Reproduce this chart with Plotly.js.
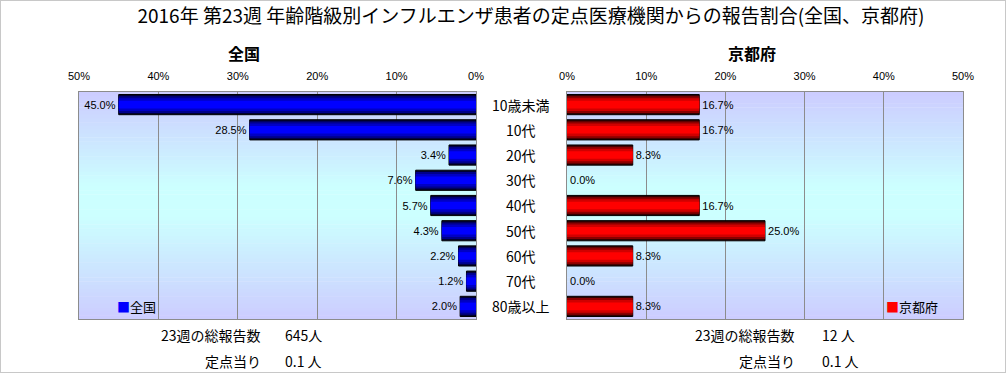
<!DOCTYPE html>
<html><head><meta charset="utf-8">
<script src="https://cdn.plot.ly/plotly-3.0.1.min.js"></script>
<style>
html,body{margin:0;padding:0;background:#fff;}
#wrap{position:relative;width:1006px;height:373px;}
#chart{position:absolute;left:0;top:0;width:1006px;height:373px;}
#frame{position:absolute;left:0;top:0;width:1006px;height:373px;box-sizing:border-box;border:1px solid #c8c8c8;pointer-events:none;}
</style></head>
<body><div id="wrap"><div id="chart"></div><div id="frame"></div></div>
<script>
const categories = ['10歳未満','10代','20代','30代','40代','50代','60代','70代','80歳以上'];
const nationalPct = [45.0, 28.5, 3.4, 7.6, 5.7, 4.3, 2.2, 1.2, 2.0];
const kyotoPct = [16.7, 16.7, 8.3, 0.0, 16.7, 25.0, 8.3, 0.0, 8.3];
const xTickVals = [0, 10, 20, 30, 40, 50];
const xTickText = ['0%', '10%', '20%', '30%', '40%', '50%'];
const titleText = '2016年 第23週 年齢階級別インフルエンザ患者の定点医療機関からの報告割合(全国、京都府)';
const leftName = '全国';
const rightName = '京都府';
const nationalTotal = '645人';
const kyotoTotal = '12 人';
const nationalPerSite = '0.1 人';
const kyotoPerSite = '0.1 人';
const totalLabel = '23週の総報告数';
const perSiteLabel = '定点当り';

const W = 1006, H = 373;
const FONT = '"Liberation Sans", "Noto Sans CJK JP", sans-serif';
const JFONT = '"Noto Sans CJK JP", "Liberation Sans", sans-serif';

// bar shading layers (cylinder look)
const blueLayers = [
  {w: 0.80, c: '#000033', line: true},
  {w: 0.66, c: '#00008a'},
  {w: 0.50, c: '#0000c4'},
  {w: 0.30, c: '#0000ff'}
];
const redLayers = [
  {w: 0.80, c: '#330000', line: true},
  {w: 0.66, c: '#8a0000'},
  {w: 0.50, c: '#d00000'},
  {w: 0.30, c: '#ff0000'}
];

const traces = [];
function addLayers(layers, vals, xa, ya) {
  layers.forEach((L, i) => {
    traces.push({
      type: 'bar', orientation: 'h', x: vals, y: categories,
      xaxis: xa, yaxis: ya, width: L.w, showlegend: false,
      marker: {color: L.c, line: {color: '#000', width: vals.map(v => (L.line && v > 0) ? 1 : 0)}},
      text: i === 0 ? vals.map(v => v.toFixed(1) + '%') : null,
      textposition: i === 0 ? 'outside' : 'none',
      textfont: {family: FONT, size: 11, color: '#000'},
      cliponaxis: false, hoverinfo: 'skip'
    });
  });
}
addLayers(blueLayers, nationalPct, 'x', 'y');
addLayers(redLayers, kyotoPct, 'x2', 'y2');

// gradient background stripes
function lerp(a, b, t) { return Math.round(a + (b - a) * t); }
function bgColor(t) {
  const lav = [204, 204, 255], cy = [204, 255, 255];
  let f;
  if (t < 0.42) f = t / 0.42;
  else if (t < 0.55) f = 1;
  else f = 1 - (t - 0.55) / 0.45;
  return 'rgb(' + lerp(lav[0], cy[0], f) + ',' + lerp(lav[1], cy[1], f) + ',' + lerp(lav[2], cy[2], f) + ')';
}
const shapes = [];
const N = 60;
['x', 'x2'].forEach((ax, k) => {
  const yax = k === 0 ? 'y' : 'y2';
  for (let i = 0; i < N; i++) {
    shapes.push({
      type: 'rect', xref: ax + ' domain', yref: yax + ' domain', layer: 'below',
      x0: 0, x1: 1, y0: 1 - (i + 1) / N - 0.002, y1: 1 - i / N,
      fillcolor: bgColor((i + 0.5) / N), line: {width: 0}
    });
  }
});

const yTop = 1 - 92 / H, yBot = 1 - 319 / H;
const annotations = [];
categories.forEach(c => {
  annotations.push({xref: 'paper', yref: 'y', x: 521 / W, y: c, text: c, showarrow: false,
    xanchor: 'center', yanchor: 'middle', font: {family: JFONT, size: 14, color: '#000'}});
});
function txt(x, y, t, anchor, size, bold) {
  annotations.push({xref: 'paper', yref: 'paper', x: x / W, y: 1 - y / H, text: bold ? '<b>' + t + '</b>' : t,
    showarrow: false, xanchor: anchor, yanchor: 'middle', font: {family: JFONT, size: size, color: '#000'}});
}
txt(244, 53, leftName, 'center', 16, true);
txt(752, 53, rightName, 'center', 16, true);
txt(263, 335, totalLabel, 'right', 14);
txt(283, 335, nationalTotal, 'left', 14);
txt(263, 361, perSiteLabel, 'right', 14);
txt(283, 361, nationalPerSite, 'left', 14);
txt(797, 335, totalLabel, 'right', 14);
txt(820, 335, kyotoTotal, 'left', 14);
txt(797, 361, perSiteLabel, 'right', 14);
txt(820, 361, kyotoPerSite, 'left', 14);
// legends
annotations.push({xref: 'paper', yref: 'paper', x: 115 / W, y: 1 - 306 / H, xanchor: 'left', yanchor: 'middle', showarrow: false,
  text: '<span style="color:#0000ff">■</span>' + leftName, font: {family: JFONT, size: 13, color: '#000'}});
annotations.push({xref: 'paper', yref: 'paper', x: 884 / W, y: 1 - 306 / H, xanchor: 'left', yanchor: 'middle', showarrow: false,
  text: '<span style="color:#ff0000">■</span>' + rightName, font: {family: JFONT, size: 13, color: '#000'}});

const xCommon = {
  side: 'top', tickvals: xTickVals, ticktext: xTickText, showgrid: true, gridcolor: '#8c8c8c', gridwidth: 1,
  zeroline: false, showline: true, mirror: true, linecolor: '#8c8c8c', linewidth: 1,
  ticks: 'outside', ticklen: 7, tickcolor: 'rgba(0,0,0,0)',
  tickfont: {family: FONT, size: 11, color: '#000'}, fixedrange: true
};
const yCommon = {
  type: 'category', autorange: 'reversed', showticklabels: false, showgrid: false, zeroline: false,
  showline: true, mirror: true, linecolor: '#8c8c8c', linewidth: 1, ticks: '', fixedrange: true
};

const layout = {
  width: W, height: H, margin: {l: 0, r: 0, t: 0, b: 0, autoexpand: false},
  paper_bgcolor: '#fff', plot_bgcolor: 'rgba(0,0,0,0)',
  barmode: 'overlay', bargap: 0.2, showlegend: false,
  title: {text: titleText, x: 531 / W, xanchor: 'center', y: 1 - 16 / H, yanchor: 'middle', yref: 'container',
    font: {family: JFONT, size: 19, color: '#000'}},
  xaxis: Object.assign({}, xCommon, {domain: [79 / W, 476 / W], range: [50, 0], anchor: 'y'}),
  yaxis: Object.assign({}, yCommon, {domain: [yBot, yTop], anchor: 'x'}),
  xaxis2: Object.assign({}, xCommon, {domain: [567 / W, 963 / W], range: [0, 50], anchor: 'y2'}),
  yaxis2: Object.assign({}, yCommon, {domain: [yBot, yTop], anchor: 'x2'}),
  shapes: shapes, annotations: annotations
};

Plotly.newPlot('chart', traces, layout, {staticPlot: true, displayModeBar: false});
</script></body></html>
